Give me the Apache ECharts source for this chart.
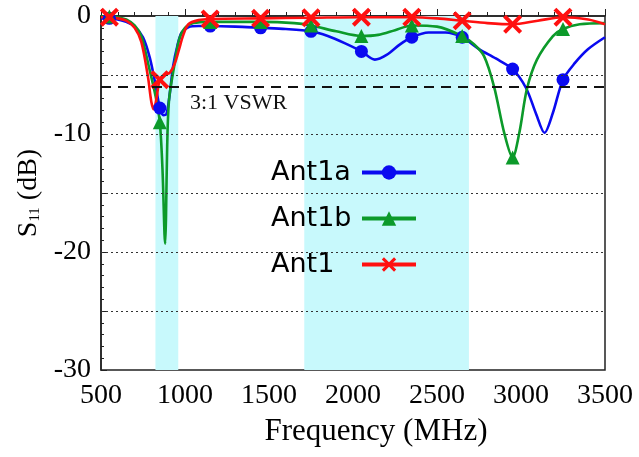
<!DOCTYPE html>
<html>
<head>
<meta charset="utf-8">
<script src="https://cdn.jsdelivr.net/npm/echarts@6/dist/echarts.min.js"></script>
<style>
  html, body { margin: 0; padding: 0; background: #fff; }
  #main { width: 639px; height: 457px; }
</style>
</head>
<body>
<div id="main"></div>
<script>
// marker frequencies (MHz) - symbols only drawn here
var markFreqs = [550, 850, 1150, 1450, 1750, 2050, 2350, 2650, 2950, 3250];

// Ant1a (blue)
var ant1aFreq = [500, 550, 600, 650, 700, 750, 790, 820, 850, 870, 890, 910, 930, 955, 980, 1020, 1080, 1150, 1300, 1450, 1600, 1750, 1850, 1950, 2050, 2130, 2200, 2280, 2350, 2450, 2550, 2650, 2750, 2850, 2950, 3030, 3090, 3140, 3190, 3250, 3320, 3400, 3500];
var ant1aS11 = [-0.2, -0.2, -0.3, -0.5, -0.9, -1.8, -3.5, -5.5, -7.8, -8.4, -8.3, -6.5, -4.2, -2.5, -1.4, -0.95, -0.85, -0.85, -0.9, -1.0, -1.1, -1.3, -1.7, -2.3, -3.0, -3.7, -3.3, -2.4, -1.8, -1.4, -1.4, -1.8, -2.8, -3.6, -4.5, -6.1, -8.3, -9.9, -8.2, -5.4, -4.0, -2.8, -1.8];

// Ant1b (green)
var ant1bFreq = [500, 550, 600, 650, 700, 740, 785, 825, 850, 866, 878, 882, 887, 894, 905, 935, 965, 1000, 1050, 1150, 1450, 1650, 1750, 1900, 2050, 2150, 2250, 2350, 2500, 2650, 2720, 2780, 2840, 2900, 2950, 2990, 3035, 3095, 3190, 3250, 3350, 3500];
var ant1bS11 = [-0.05, -0.05, -0.1, -0.3, -0.8, -1.7, -4.3, -6.8, -9.0, -13.0, -18.5, -19.3, -17.0, -11.0, -7.1, -4.3, -2.0, -1.0, -0.6, -0.5, -0.5, -0.6, -0.8, -1.3, -1.7, -1.6, -1.2, -0.8, -0.9, -1.7, -2.4, -3.4, -6.0, -9.9, -12.0, -9.9, -6.2, -3.7, -1.7, -1.1, -0.7, -0.6];

// Ant1 (red)
var ant1Freq = [500, 550, 600, 650, 700, 740, 780, 800, 815, 830, 850, 880, 910, 940, 965, 990, 1020, 1080, 1150, 1450, 1750, 2050, 2350, 2500, 2650, 2800, 2950, 3100, 3250, 3400, 3500];
var ant1S11 = [-0.1, -0.1, -0.2, -0.4, -1.0, -2.2, -5.2, -7.3, -7.9, -7.0, -5.4, -5.0, -4.8, -4.0, -2.8, -1.6, -0.7, -0.35, -0.25, -0.2, -0.15, -0.1, -0.1, -0.2, -0.4, -0.6, -0.7, -0.4, -0.1, -0.3, -0.7];

// shaded bands (MHz) and reference lines (dB)
var bands = [[824, 960], [1710, 2690]];
var gridDb = [-5, -10, -15, -20, -25];
var vswrDb = -6;

var serif = 'Liberation Serif';
var xPath = 'path://M0,1.5L1.5,0L5,3.5L8.5,0L10,1.5L6.5,5L10,8.5L8.5,10L5,6.5L1.5,10L0,8.5L3.5,5Z';

function buildData(freqs, vals) {
  return freqs.map(function (f, i) {
    var d = { value: [f, vals[i]] };
    if (markFreqs.indexOf(f) < 0) d.symbol = 'none';
    return d;
  });
}

function curve(name, color, symbol, size, freqs, vals) {
  return {
    name: name,
    type: 'line',
    z: 3,
    smooth: 0.3,
    symbol: symbol,
    symbolSize: size,
    showSymbol: true,
    showAllSymbol: true,
    color: color,
    lineStyle: { color: color, width: 2.6 },
    itemStyle: { color: color },
    data: buildData(freqs, vals)
  };
}

var chart = echarts.init(document.getElementById('main'));
chart.setOption({
  animation: false,
  grid: { left: 101, right: 34, top: 16, bottom: 87, show: true, borderColor: '#222', borderWidth: 1.5 },
  legend: {
    data: ['Ant1a', 'Ant1b', 'Ant1'],
    orient: 'vertical',
    left: 266,
    top: 154,
    align: 'right',
    itemWidth: 54,
    itemHeight: 18,
    itemGap: 19,
    lineStyle: { width: 4 },
    formatter: function (name) { return '{n|' + name + '}'; },
    textStyle: {
      fontFamily: 'DejaVu Sans', fontSize: 27, color: '#000',
      rich: { n: { fontFamily: 'DejaVu Sans', fontSize: 27, color: '#000', width: 86, align: 'left' } }
    }
  },
  xAxis: {
    type: 'value',
    min: 500,
    max: 3500,
    interval: 500,
    name: 'Frequency (MHz)',
    nameLocation: 'middle',
    nameGap: 46,
    nameTextStyle: { fontFamily: serif, fontSize: 31, color: '#000', padding: [0, 0, 0, 46] },
    axisLine: { lineStyle: { color: '#222', width: 1.5 } },
    axisTick: { inside: true, length: 7, lineStyle: { color: '#222' } },
    minorTick: { show: true, splitNumber: 5, length: 4, lineStyle: { color: '#222' } },
    axisLabel: {
      fontFamily: serif, fontSize: 28, color: '#000', margin: 12,
      formatter: function (v) { return String(v); }
    },
    splitLine: { show: false }
  },
  yAxis: {
    type: 'value',
    min: -30,
    max: 0,
    interval: 5,
    name: 'S{s|11} (dB)',
    nameLocation: 'middle',
    nameRotate: 90,
    nameGap: 56,
    nameTextStyle: {
      fontFamily: serif, fontSize: 28, color: '#000',
      rich: { s: { fontFamily: serif, fontSize: 15, color: '#000', verticalAlign: 'top', padding: [14, 0, 0, 0] } }
    },
    axisLine: { lineStyle: { color: '#222', width: 1.5 } },
    axisTick: { inside: true, length: 6, lineStyle: { color: '#222' } },
    minorTick: { show: true, splitNumber: 5, length: 3, lineStyle: { color: '#222' } },
    axisLabel: {
      fontFamily: serif, fontSize: 28, color: '#000', margin: 10,
      formatter: function (v) { return v % 10 === 0 ? String(v) : ''; }
    },
    splitLine: { show: false }
  },
  series: [
    {
      name: 'bands',
      type: 'line',
      z: 1,
      data: [],
      markArea: {
        silent: true,
        itemStyle: { color: '#c8f9fc' },
        data: bands.map(function (b) { return [{ xAxis: b[0] }, { xAxis: b[1] }]; })
      }
    },
    {
      name: 'refs',
      type: 'line',
      z: 2,
      data: [],
      markLine: {
        silent: true,
        symbol: 'none',
        data: gridDb.map(function (v) {
          return { yAxis: v, lineStyle: { color: '#333', width: 1.2, type: [2, 3] }, label: { show: false } };
        }).concat([{
          yAxis: vswrDb,
          lineStyle: { color: '#111', width: 2, type: [10, 7] },
          label: {
            show: true,
            position: 'insideStartBottom',
            formatter: '3:1 VSWR',
            fontFamily: serif,
            fontSize: 22,
            color: '#111',
            padding: [0, 0, 0, 84]
          }
        }])
      }
    },
    curve('Ant1a', '#0a0af0', 'circle', 13, ant1aFreq, ant1aS11),
    curve('Ant1b', '#0c9a2a', 'triangle', 14, ant1bFreq, ant1bS11),
    curve('Ant1', '#ff1010', xPath, 19, ant1Freq, ant1S11)
  ]
});
</script>
</body>
</html>
